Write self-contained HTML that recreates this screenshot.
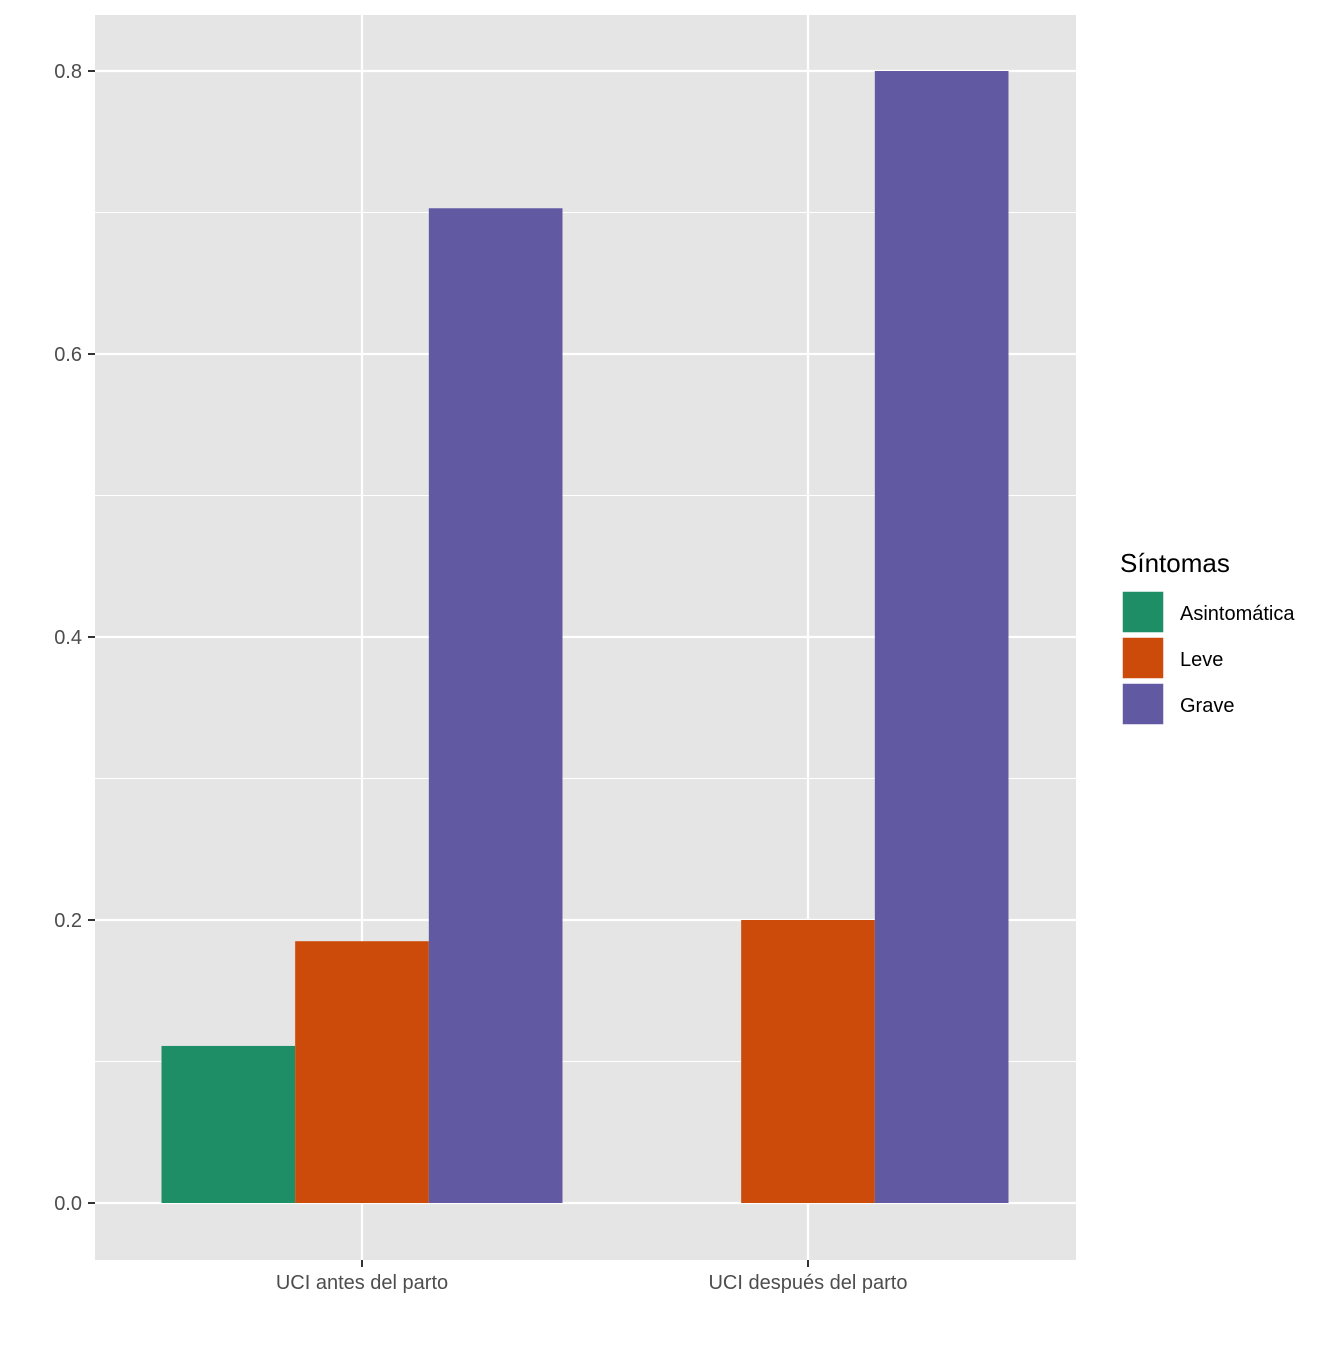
<!DOCTYPE html>
<html><head><meta charset="utf-8"><style>
body{margin:0;background:#fff;}
svg text{font-family:"Liberation Sans",Arial,sans-serif;}
</style></head><body>
<svg id="chart" width="1344" height="1344" xmlns="http://www.w3.org/2000/svg">
<rect x="95" y="15" width="981" height="1245" fill="#e5e5e5"/>
<g id="grid"></g>
<g id="bars"></g>
<g id="axes"></g>
<g id="legend">
<text x="1120" y="572" font-size="26" fill="#000">Síntomas</text>
</g>
</svg>
<script>
const categories = ["UCI antes del parto", "UCI después del parto"];
const seriesNames = ["Asintomática", "Leve", "Grave"];
const asintomatica = [0.111, 0];
const leve = [0.185, 0.2];
const grave = [0.703, 0.8];
const yTicks = [0, 0.2, 0.4, 0.6, 0.8];
const yTickLabels = ["0.0", "0.2", "0.4", "0.6", "0.8"];
const colors = ["#1b9e77", "#d95f02", "#7570b3"];
const fillColors = ["#1e8e66", "#cd4b0a", "#615aa3"];

const NS = "http://www.w3.org/2000/svg";
const x0 = 95, x1 = 1076, yTop = 15, yBot = 1260;
function yScale(v){ return 1203 - v * 1415; }
function xCenter(i){ return 362 + i * 446; }
const groupW = 401, barW = groupW / 3;
function mk(tag, attrs, parent){ const e = document.createElementNS(NS, tag); for (const k in attrs) e.setAttribute(k, attrs[k]); parent.appendChild(e); return e; }
const grid = document.getElementById('grid'), bars = document.getElementById('bars'), axes = document.getElementById('axes'), legend = document.getElementById('legend');

for (let i = 0; i < yTicks.length - 1; i++) {
  const l = mk('line', {x1:x0, x2:x1, y1:yScale((yTicks[i]+yTicks[i+1])/2), y2:yScale((yTicks[i]+yTicks[i+1])/2), stroke:'#fff', 'stroke-width':1}, grid);
  
  
}
yTicks.forEach((t, i) => {
  const y = yScale(t);
  const l = mk('line', {x1:x0, x2:x1, y1:y, y2:y, stroke:'#fff', 'stroke-width':2.2}, grid);
  
  
  const tk = mk('line', {x1:88, x2:95, y1:y, y2:y, stroke:'#333', 'stroke-width':2}, axes);
  
  
  const tx = mk('text', {x:82, y:y+7, 'text-anchor':'end', 'font-size':20, fill:'#4d4d4d'}, axes);
  tx.textContent = yTickLabels[i];
  
  
});
categories.forEach((c, i) => {
  const x = xCenter(i);
  const l = mk('line', {x1:x, x2:x, y1:yTop, y2:yBot, stroke:'#fff', 'stroke-width':2.2}, grid);
  
  
  const tk = mk('line', {x1:x, x2:x, y1:1260, y2:1267, stroke:'#333', 'stroke-width':2}, axes);
  
  
  const tx = mk('text', {x:x, y:1289, 'text-anchor':'middle', 'font-size':20, fill:'#4d4d4d'}, axes);
  tx.textContent = c;
  
  
});
const series = [asintomatica, leve, grave];
series.forEach((vals, s) => {
  vals.forEach((v, i) => {
    if (v <= 0) return;
    const bx = xCenter(i) - groupW/2 + s*barW;
    const r = mk('rect', {x:bx, y:yScale(v), width:barW, height:yScale(0)-yScale(v), fill:fillColors[s]}, bars);
    
    
  });
});
seriesNames.forEach((n, s) => {
  const y = 591 + s*46;
  const r = mk('rect', {x:1122, y:y, width:42, height:42, fill:fillColors[s], stroke:'#fff', 'stroke-width':1.5}, legend);
  
  
  const t = mk('text', {x:1180, y:y+29, 'font-size':20, fill:'#000'}, legend);
  t.textContent = n;
  
  
});
</script>
</body></html>
